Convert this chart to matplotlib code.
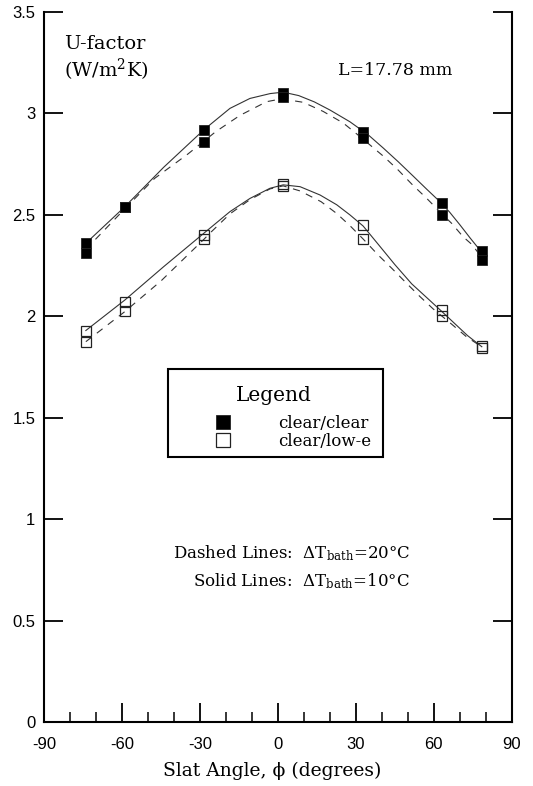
import numpy as np
import matplotlib
matplotlib.use("Agg")
import matplotlib.pyplot as plt
from matplotlib.patches import Rectangle

plt.rcParams['font.family'] = ['DejaVu Serif']
plt.rcParams['mathtext.fontset'] = 'dejavuserif'
plt.rcParams['axes.unicode_minus'] = False

# Slat angle positions of the measured points (as placed on the chart)
angles = [-74.0, -58.9, -28.5, 2.0, 32.8, 63.3, 78.5]

# Measured U-factors, two runs per angle
clear_clear_hi = [2.36, 2.54, 2.92, 3.10, 2.91, 2.56, 2.32]
clear_clear_lo = [2.31, 2.54, 2.86, 3.08, 2.88, 2.50, 2.28]
clear_lowe_hi = [1.93, 2.07, 2.40, 2.65, 2.45, 2.03, 1.855]
clear_lowe_lo = [1.875, 2.025, 2.38, 2.64, 2.38, 2.00, 1.845]

# Fitted curves, solid = dT 10C, dashed = dT 20C
cc_solid_x = [-74, -59, -44, -28.5, -18.5, -10.8, -3, 2, 8, 14, 20, 27.7,
              34.8, 40.5, 46.3, 52, 57, 61.7, 66, 70, 74, 78.5]
cc_solid_y = [2.36, 2.54, 2.735, 2.92, 3.025, 3.074, 3.098, 3.105, 3.088, 3.057,
              3.017, 2.959, 2.894, 2.83, 2.762, 2.692, 2.63, 2.573, 2.515, 2.452,
              2.386, 2.315]
cc_dash_x = [-74, -59, -47.5, -34.7, -24, -14.7, -4.4, 1.4, 9.7, 17.4, 25.1,
             29, 34, 40.8, 46.3, 51.5, 57.3, 63.3, 66.9, 71.3, 74.6, 78.5]
cc_dash_y = [2.33, 2.53, 2.68, 2.80, 2.91, 2.99, 3.058, 3.072, 3.055, 3.01, 2.953,
             2.913, 2.86, 2.787, 2.721, 2.652, 2.581, 2.503, 2.458, 2.392, 2.355,
             2.29]
lowe_solid_x = [-74, -59, -44, -28.5, -18.5, -10.8, -3.1, 2, 8.5, 16.2, 22.6,
                27.7, 32.8, 38.6, 45, 51.5, 57.9, 63, 68, 73, 78.5]
lowe_solid_y = [1.93, 2.08, 2.245, 2.41, 2.516, 2.581, 2.631, 2.648, 2.639, 2.598,
                2.55, 2.50, 2.445, 2.355, 2.255, 2.16, 2.085, 2.025, 1.965, 1.905,
                1.85]
lowe_dash_x = [-74, -59, -45, -28.5, -26.2, -18.5, -10.8, -3.1, 2, 8.5, 16.6,
               22.6, 27.7, 32.8, 38.6, 43.8, 49.5, 54.7, 59.8, 63.4, 66.9, 72.6,
               78.4]
lowe_dash_y = [1.875, 2.023, 2.175, 2.38, 2.41, 2.505, 2.575, 2.628, 2.643, 2.618,
               2.565, 2.507, 2.447, 2.381, 2.302, 2.237, 2.163, 2.097, 2.036, 1.998,
               1.961, 1.899, 1.85]

x_ticks = [-90, -60, -30, 0, 30, 60, 90]
y_ticks = [0, 0.5, 1, 1.5, 2, 2.5, 3, 3.5]
y_tick_labels = ['0', '0.5', '1', '1.5', '2', '2.5', '3', '3.5']

fig = plt.figure(figsize=(5.33, 7.86), dpi=100)
ax = fig.add_axes([0.0831, 0.0814, 0.8769, 0.9033])

line_kw = dict(color='#333333', linewidth=0.8)
ax.plot(cc_solid_x, cc_solid_y, '-', **line_kw)
ax.plot(lowe_solid_x, lowe_solid_y, '-', **line_kw)
ax.plot(cc_dash_x, cc_dash_y, '--', dashes=(6.5, 6), **line_kw)
ax.plot(lowe_dash_x, lowe_dash_y, '--', dashes=(6.5, 6), **line_kw)

mk = dict(linestyle='none', marker='s', markersize=7.5, zorder=3)
h_cc = ax.plot(angles, clear_clear_hi, color='black', markeredgecolor='#222222',
               markeredgewidth=0.6, label='clear/clear', **mk)[0]
ax.plot(angles, clear_clear_lo, color='black', markeredgecolor='#222222',
        markeredgewidth=0.6, **mk)
h_le = ax.plot(angles, clear_lowe_hi, markerfacecolor='none', markeredgecolor='#222222',
               markeredgewidth=0.9, label='clear/low-e', **mk)[0]
ax.plot(angles, clear_lowe_lo, markerfacecolor='none', markeredgecolor='#222222',
        markeredgewidth=0.9, **mk)

ax.set_xlim(-90, 90)
ax.set_ylim(0, 3.5)
ax.set_xticks(x_ticks)
ax.set_xticks(np.arange(-80, 90, 10), minor=True)
ax.set_yticks(y_ticks)
ax.set_yticklabels(y_tick_labels)
ax.tick_params(axis='both', which='major', direction='in', length=14, width=1.3,
               labelsize=12, labelfontfamily='Liberation Sans')
ax.tick_params(axis='x', which='major', pad=11, top=False)
ax.tick_params(axis='x', which='minor', direction='in', length=7, width=1.1, top=False)
ax.tick_params(axis='y', which='major', right=True, pad=6.5)
ax.tick_params(axis='y', which='minor', left=False, right=False)
ax.spines['top'].set_visible(False)
for s in ['left', 'right', 'bottom']:
    ax.spines[s].set_linewidth(1.5)

ax.set_xlabel('Slat Angle, \u03d5 (degrees)', fontsize=13.5)
ax.xaxis.set_label_coords(0.488, -0.0556)

ax.text(-82.5, 3.318, 'U-factor', fontsize=14, va='baseline')
ax.text(-82.5, 3.181, '(W/m$^{2}$K)', fontsize=14, va='baseline')
ax.text(23.1, 3.19, 'L=17.78 mm', fontsize=12.5, va='baseline')

ax.text(50.9, 0.808, r'Dashed Lines:  $\Delta$T$_{\mathrm{bath}}$=20°C', fontsize=12,
        ha='right', va='baseline')
ax.text(50.9, 0.667, r'Solid Lines:  $\Delta$T$_{\mathrm{bath}}$=10°C', fontsize=12,
        ha='right', va='baseline')

# legend box drawn separately so the title spacing can follow the original
ax.add_patch(Rectangle((0.264, 0.3737), 0.4603, 0.1231, transform=ax.transAxes,
                       fill=True, facecolor='white', edgecolor='black', linewidth=1.5,
                       zorder=4))
leg = ax.legend(handles=[h_cc, h_le], loc='upper left', bbox_to_anchor=(0.264, 0.4855),
                borderaxespad=0, title='Legend', title_fontsize=14.5, fontsize=12,
                handlelength=5.5, handletextpad=0.56, borderpad=0.54, labelspacing=0.05,
                markerscale=1.4, numpoints=1, frameon=False)
leg._legend_box.sep = 7.1
leg.set_zorder(5)

fig.savefig('out.png', dpi=100)
